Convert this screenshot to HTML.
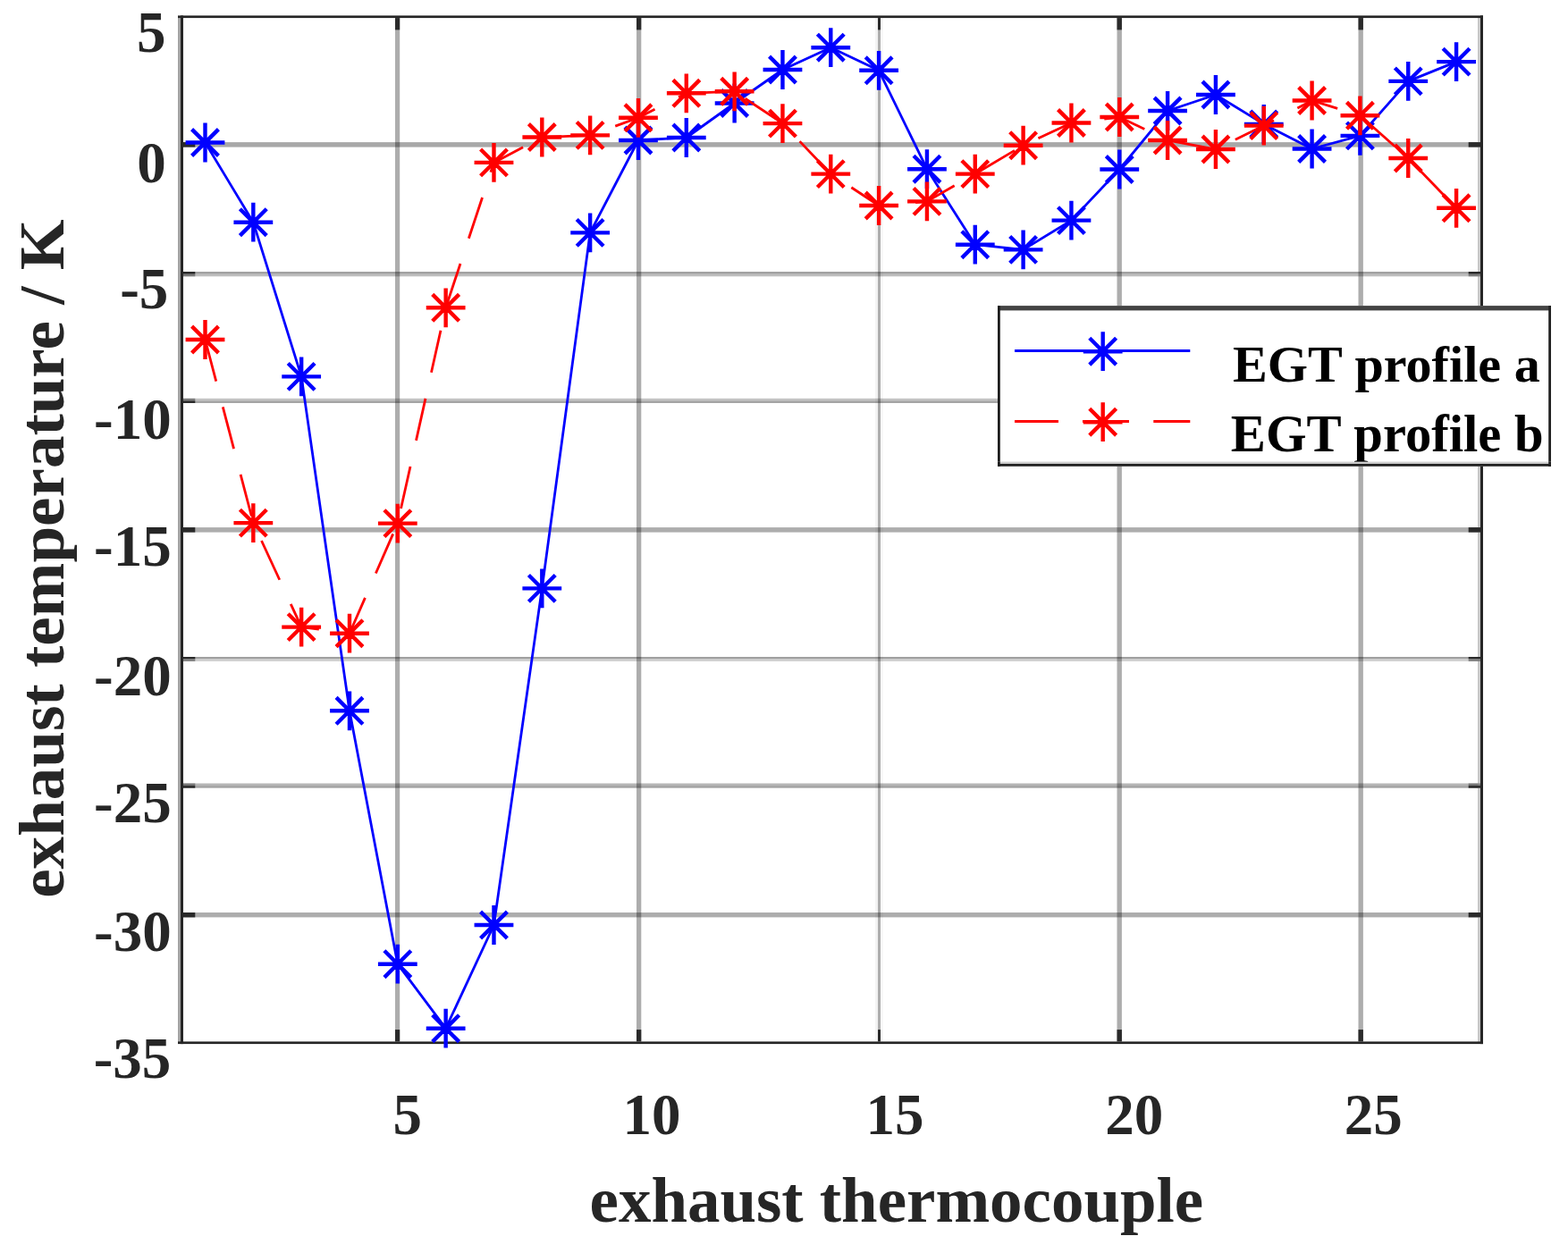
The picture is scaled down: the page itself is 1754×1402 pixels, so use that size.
<!DOCTYPE html>
<html lang="en"><head><meta charset="utf-8"><title>EGT profiles</title>
<style>
html,body{margin:0;padding:0;background:#fff;}
body{width:1754px;height:1402px;overflow:hidden;}
svg{display:block;}
text{font-family:"Liberation Serif","Times New Roman",Times,serif;font-weight:bold;}
.tk{font-size:65px;fill:#262626;}
.lab{font-size:71.5px;fill:#262626;}
.leg{font-size:57.5px;fill:#000;}
.leg2{font-size:60px;fill:#000;}
</style></head><body>
<svg width="1754" height="1402" viewBox="0 0 1754 1402" role="img" aria-label="EGT profile chart">
<rect width="1754" height="1402" fill="#fff"/>
<g fill="#000">
<rect x="442" y="20.1" width="5.2" height="1145.3" fill-opacity="0.322"/>
<rect x="712" y="20.1" width="5.3" height="1145.3" fill-opacity="0.322"/>
<rect x="982" y="20.1" width="3" height="1145.3" fill-opacity="0.322"/>
<rect x="1249.5" y="20.1" width="5.4" height="1145.3" fill-opacity="0.322"/>
<rect x="1519.5" y="20.1" width="5.4" height="1145.3" fill-opacity="0.322"/>
<rect x="979.2" y="20.1" width="2.8" height="1145.3" fill-opacity="0.05"/>
<rect x="985" y="20.1" width="2.8" height="1145.3" fill-opacity="0.03"/>
<rect x="205" y="159.1" width="1451" height="5.5" fill-opacity="0.341"/>
<rect x="205" y="304" width="1451" height="2.6" fill-opacity="0.365"/>
<rect x="205" y="306.6" width="1451" height="2.7" fill-opacity="0.255"/>
<rect x="205" y="445.8" width="1451" height="2.6" fill-opacity="0.231"/>
<rect x="205" y="448.4" width="1451" height="2.6" fill-opacity="0.357"/>
<rect x="205" y="590.1" width="1451" height="5.5" fill-opacity="0.322"/>
<rect x="205" y="735" width="1451" height="2.3" fill-opacity="0.373"/>
<rect x="205" y="737.3" width="1451" height="2.7" fill-opacity="0.176"/>
<rect x="205" y="876.5" width="1451" height="2.6" fill-opacity="0.286"/>
<rect x="205" y="879.1" width="1451" height="2.6" fill-opacity="0.357"/>
<rect x="205" y="1021" width="1451" height="5.4" fill-opacity="0.322"/>
</g>
<g fill="#262626">
<rect x="199" y="18" width="3" height="1149.5" fill="#a3a3a3"/>
<rect x="1653" y="20" width="3" height="1146" fill="#c8c8c8"/>
<rect x="199" y="17.4" width="1460" height="2.7"/>
<rect x="199" y="1165.4" width="1460" height="2.7"/>
<rect x="202" y="17.4" width="3" height="1150.7"/>
<rect x="1656" y="17.4" width="3" height="1150.7"/>
</g>
<g fill="#2a2a2a">
<rect x="442" y="1152.1" width="5.2" height="13.3"/>
<rect x="442" y="20.1" width="5.2" height="13.3"/>
<rect x="712" y="1152.1" width="5.3" height="13.3"/>
<rect x="712" y="20.1" width="5.3" height="13.3"/>
<rect x="982" y="1152.1" width="3" height="13.3"/>
<rect x="982" y="20.1" width="3" height="13.3"/>
<rect x="1249.5" y="1152.1" width="5.4" height="13.3"/>
<rect x="1249.5" y="20.1" width="5.4" height="13.3"/>
<rect x="1519.5" y="1152.1" width="5.4" height="13.3"/>
<rect x="1519.5" y="20.1" width="5.4" height="13.3"/>
<rect x="205" y="159.1" width="13.3" height="5.5" fill-opacity="1.0"/>
<rect x="1642.7" y="159.1" width="13.3" height="5.5" fill-opacity="1.0"/>
<rect x="205" y="304" width="13.3" height="2.6" fill-opacity="1.0"/>
<rect x="1642.7" y="304" width="13.3" height="2.6" fill-opacity="1.0"/>
<rect x="205" y="306.6" width="13.3" height="2.7" fill-opacity="0.45"/>
<rect x="1642.7" y="306.6" width="13.3" height="2.7" fill-opacity="0.45"/>
<rect x="205" y="445.8" width="13.3" height="2.6" fill-opacity="0.45"/>
<rect x="1642.7" y="445.8" width="13.3" height="2.6" fill-opacity="0.45"/>
<rect x="205" y="448.4" width="13.3" height="2.6" fill-opacity="1.0"/>
<rect x="1642.7" y="448.4" width="13.3" height="2.6" fill-opacity="1.0"/>
<rect x="205" y="590.1" width="13.3" height="5.5" fill-opacity="1.0"/>
<rect x="1642.7" y="590.1" width="13.3" height="5.5" fill-opacity="1.0"/>
<rect x="205" y="735" width="13.3" height="2.3" fill-opacity="1.0"/>
<rect x="1642.7" y="735" width="13.3" height="2.3" fill-opacity="1.0"/>
<rect x="205" y="737.3" width="13.3" height="2.7" fill-opacity="0.45"/>
<rect x="1642.7" y="737.3" width="13.3" height="2.7" fill-opacity="0.45"/>
<rect x="205" y="876.5" width="13.3" height="2.6" fill-opacity="0.45"/>
<rect x="1642.7" y="876.5" width="13.3" height="2.6" fill-opacity="0.45"/>
<rect x="205" y="879.1" width="13.3" height="2.6" fill-opacity="1.0"/>
<rect x="1642.7" y="879.1" width="13.3" height="2.6" fill-opacity="1.0"/>
<rect x="205" y="1021" width="13.3" height="5.4" fill-opacity="1.0"/>
<rect x="1642.7" y="1021" width="13.3" height="5.4" fill-opacity="1.0"/>
</g>
<polyline points="229.5,159.5 283.33,248.7 337.16,421.4 390.99,795.3 444.82,1078.7 498.65,1150.7 552.48,1035 606.31,658.4 660.14,260.4 713.97,157 767.8,154 821.63,115.5 875.46,78 929.29,53.2 983.12,78.8 1036.95,189.2 1090.78,273.7 1144.61,279.4 1198.44,246.6 1252.27,189.5 1306.1,124 1359.93,106 1413.76,138.9 1467.59,166.5 1521.42,151.9 1575.25,90.9 1629.08,69.1" fill="none" stroke="#0000ff" stroke-width="2.8" stroke-linejoin="round"/>
<path d="M207.6 159.5H251.4M229.5 137.6V181.4M214.6 144.6L244.4 174.4M214.6 174.4L244.4 144.6M261.43 248.7H305.23M283.33 226.8V270.6M268.43 233.8L298.23 263.6M268.43 263.6L298.23 233.8M315.26 421.4H359.06M337.16 399.5V443.3M322.26 406.5L352.06 436.3M322.26 436.3L352.06 406.5M369.09 795.3H412.89M390.99 773.4V817.2M376.09 780.4L405.89 810.2M376.09 810.2L405.89 780.4M422.92 1078.7H466.72M444.82 1056.8V1100.6M429.92 1063.8L459.72 1093.6M429.92 1093.6L459.72 1063.8M476.75 1150.7H520.55M498.65 1128.8V1172.6M483.75 1135.8L513.55 1165.6M483.75 1165.6L513.55 1135.8M530.58 1035H574.38M552.48 1013.1V1056.9M537.58 1020.1L567.38 1049.9M537.58 1049.9L567.38 1020.1M584.41 658.4H628.21M606.31 636.5V680.3M591.41 643.5L621.21 673.3M591.41 673.3L621.21 643.5M638.24 260.4H682.04M660.14 238.5V282.3M645.24 245.5L675.04 275.3M645.24 275.3L675.04 245.5M692.07 157H735.87M713.97 135.1V178.9M699.07 142.1L728.87 171.9M699.07 171.9L728.87 142.1M745.9 154H789.7M767.8 132.1V175.9M752.9 139.1L782.7 168.9M752.9 168.9L782.7 139.1M799.73 115.5H843.53M821.63 93.6V137.4M806.73 100.6L836.53 130.4M806.73 130.4L836.53 100.6M853.56 78H897.36M875.46 56.1V99.9M860.56 63.1L890.36 92.9M860.56 92.9L890.36 63.1M907.39 53.2H951.19M929.29 31.3V75.1M914.39 38.3L944.19 68.1M914.39 68.1L944.19 38.3M961.22 78.8H1005.02M983.12 56.9V100.7M968.22 63.9L998.02 93.7M968.22 93.7L998.02 63.9M1015.05 189.2H1058.85M1036.95 167.3V211.1M1022.05 174.3L1051.85 204.1M1022.05 204.1L1051.85 174.3M1068.88 273.7H1112.68M1090.78 251.8V295.6M1075.88 258.8L1105.68 288.6M1075.88 288.6L1105.68 258.8M1122.71 279.4H1166.51M1144.61 257.5V301.3M1129.71 264.5L1159.51 294.3M1129.71 294.3L1159.51 264.5M1176.54 246.6H1220.34M1198.44 224.7V268.5M1183.54 231.7L1213.34 261.5M1183.54 261.5L1213.34 231.7M1230.37 189.5H1274.17M1252.27 167.6V211.4M1237.37 174.6L1267.17 204.4M1237.37 204.4L1267.17 174.6M1284.2 124H1328M1306.1 102.1V145.9M1291.2 109.1L1321 138.9M1291.2 138.9L1321 109.1M1338.03 106H1381.83M1359.93 84.1V127.9M1345.03 91.1L1374.83 120.9M1345.03 120.9L1374.83 91.1M1391.86 138.9H1435.66M1413.76 117V160.8M1398.86 124L1428.66 153.8M1398.86 153.8L1428.66 124M1445.69 166.5H1489.49M1467.59 144.6V188.4M1452.69 151.6L1482.49 181.4M1452.69 181.4L1482.49 151.6M1499.52 151.9H1543.32M1521.42 130V173.8M1506.52 137L1536.32 166.8M1506.52 166.8L1536.32 137M1553.35 90.9H1597.15M1575.25 69V112.8M1560.35 76L1590.15 105.8M1560.35 105.8L1590.15 76M1607.18 69.1H1650.98M1629.08 47.2V91M1614.18 54.2L1643.98 84M1614.18 84L1643.98 54.2" fill="none" stroke="#0000ff" stroke-width="4.4"/>
<polyline points="229.5,380 283.33,585.1 337.16,701.6 390.99,708.7 444.82,585.6 498.65,344.3 552.48,181.9 606.31,153.5 660.14,151.4 713.97,131.8 767.8,104.3 821.63,102.3 875.46,138.1 929.29,194.6 983.12,230 1036.95,225.4 1090.78,194.6 1144.61,162.7 1198.44,137.5 1252.27,131 1306.1,157 1359.93,167 1413.76,140.6 1467.59,112.5 1521.42,129.3 1575.25,177 1629.08,232.8" fill="none" stroke="#ff0000" stroke-width="2.8" stroke-linejoin="round" stroke-dasharray="48.2 29.8" stroke-dashoffset="0"/>
<path d="M207.6 380H251.4M229.5 358.1V401.9M214.6 365.1L244.4 394.9M214.6 394.9L244.4 365.1M261.43 585.1H305.23M283.33 563.2V607M268.43 570.2L298.23 600M268.43 600L298.23 570.2M315.26 701.6H359.06M337.16 679.7V723.5M322.26 686.7L352.06 716.5M322.26 716.5L352.06 686.7M369.09 708.7H412.89M390.99 686.8V730.6M376.09 693.8L405.89 723.6M376.09 723.6L405.89 693.8M422.92 585.6H466.72M444.82 563.7V607.5M429.92 570.7L459.72 600.5M429.92 600.5L459.72 570.7M476.75 344.3H520.55M498.65 322.4V366.2M483.75 329.4L513.55 359.2M483.75 359.2L513.55 329.4M530.58 181.9H574.38M552.48 160V203.8M537.58 167L567.38 196.8M537.58 196.8L567.38 167M584.41 153.5H628.21M606.31 131.6V175.4M591.41 138.6L621.21 168.4M591.41 168.4L621.21 138.6M638.24 151.4H682.04M660.14 129.5V173.3M645.24 136.5L675.04 166.3M645.24 166.3L675.04 136.5M692.07 131.8H735.87M713.97 109.9V153.7M699.07 116.9L728.87 146.7M699.07 146.7L728.87 116.9M745.9 104.3H789.7M767.8 82.4V126.2M752.9 89.4L782.7 119.2M752.9 119.2L782.7 89.4M799.73 102.3H843.53M821.63 80.4V124.2M806.73 87.4L836.53 117.2M806.73 117.2L836.53 87.4M853.56 138.1H897.36M875.46 116.2V160M860.56 123.2L890.36 153M860.56 153L890.36 123.2M907.39 194.6H951.19M929.29 172.7V216.5M914.39 179.7L944.19 209.5M914.39 209.5L944.19 179.7M961.22 230H1005.02M983.12 208.1V251.9M968.22 215.1L998.02 244.9M968.22 244.9L998.02 215.1M1015.05 225.4H1058.85M1036.95 203.5V247.3M1022.05 210.5L1051.85 240.3M1022.05 240.3L1051.85 210.5M1068.88 194.6H1112.68M1090.78 172.7V216.5M1075.88 179.7L1105.68 209.5M1075.88 209.5L1105.68 179.7M1122.71 162.7H1166.51M1144.61 140.8V184.6M1129.71 147.8L1159.51 177.6M1129.71 177.6L1159.51 147.8M1176.54 137.5H1220.34M1198.44 115.6V159.4M1183.54 122.6L1213.34 152.4M1183.54 152.4L1213.34 122.6M1230.37 131H1274.17M1252.27 109.1V152.9M1237.37 116.1L1267.17 145.9M1237.37 145.9L1267.17 116.1M1284.2 157H1328M1306.1 135.1V178.9M1291.2 142.1L1321 171.9M1291.2 171.9L1321 142.1M1338.03 167H1381.83M1359.93 145.1V188.9M1345.03 152.1L1374.83 181.9M1345.03 181.9L1374.83 152.1M1391.86 140.6H1435.66M1413.76 118.7V162.5M1398.86 125.7L1428.66 155.5M1398.86 155.5L1428.66 125.7M1445.69 112.5H1489.49M1467.59 90.6V134.4M1452.69 97.6L1482.49 127.4M1452.69 127.4L1482.49 97.6M1499.52 129.3H1543.32M1521.42 107.4V151.2M1506.52 114.4L1536.32 144.2M1506.52 144.2L1536.32 114.4M1553.35 177H1597.15M1575.25 155.1V198.9M1560.35 162.1L1590.15 191.9M1560.35 191.9L1590.15 162.1M1607.18 232.8H1650.98M1629.08 210.9V254.7M1614.18 217.9L1643.98 247.7M1614.18 247.7L1643.98 217.9" fill="none" stroke="#ff0000" stroke-width="4.4"/>
<rect x="1116" y="342.1" width="619" height="179.7" fill="#fff"/>
<rect x="1116" y="342.1" width="619" height="5.3" fill="#434343"/>
<rect x="1116" y="342.1" width="2.8" height="179.7" fill="#1c1c1c"/>
<rect x="1732.2" y="342.1" width="2.8" height="179.7" fill="#222"/>
<line x1="1135" y1="392.5" x2="1331.3" y2="392.5" stroke="#0000ff" stroke-width="3.2"/>
<path d="M1211.8 393.2H1255.6M1233.7 371.3V415.1M1218.8 378.3L1248.6 408.1M1218.8 408.1L1248.6 378.3" fill="none" stroke="#0000ff" stroke-width="4.4"/>
<line x1="1135" y1="471.5" x2="1184" y2="471.5" stroke="#ff0000" stroke-width="3.2"/>
<line x1="1211" y1="471.5" x2="1263" y2="471.5" stroke="#ff0000" stroke-width="3.2"/>
<line x1="1290.3" y1="471.5" x2="1331.3" y2="471.5" stroke="#ff0000" stroke-width="3.2"/>
<path d="M1211.8 472.2H1255.6M1233.7 450.3V494.1M1218.8 457.3L1248.6 487.1M1218.8 487.1L1248.6 457.3" fill="none" stroke="#ff0000" stroke-width="4.4"/>
<text class="tk" x="152.95" y="58.4">5</text>
<text class="tk" x="153.3" y="204.15">0</text>
<text class="tk" x="134.15" y="344.55">-5</text>
<text class="tk" x="105" y="491.4">-10</text>
<text class="tk" x="105" y="632.55">-15</text>
<text class="tk" x="105" y="778">-20</text>
<text class="tk" x="105" y="919.7">-25</text>
<text class="tk" x="105" y="1064.25">-30</text>
<text class="tk" x="104.65" y="1206.3">-35</text>
<text class="tk" x="439.45" y="1269.2">5</text>
<text class="tk" x="696.6" y="1269.2">10</text>
<text class="tk" x="968.6" y="1269.2">15</text>
<text class="tk" x="1236.35" y="1269.2">20</text>
<text class="tk" x="1503.75" y="1269.2">25</text>
<text class="lab" x="659.6" y="1367" textLength="686.5" lengthAdjust="spacingAndGlyphs">exhaust thermocouple</text>
<text class="leg" x="1379" y="426.8" textLength="343.8" lengthAdjust="spacingAndGlyphs">EGT profile a</text>
<text class="leg2" x="1376.8" y="505.4" textLength="349.9" lengthAdjust="spacingAndGlyphs">EGT profile b</text>
<text class="lab" transform="translate(71.1 1004.8) rotate(-90)" textLength="759.3" lengthAdjust="spacingAndGlyphs">exhaust temperature / K</text>
<rect x="1116" y="516.6" width="619" height="2.5" fill="#cccccc"/>
<rect x="1116" y="519" width="619" height="2.8" fill="#222"/>
<rect x="1116" y="516.6" width="2.8" height="5.2" fill="#1c1c1c"/>
<rect x="1732.2" y="516.6" width="2.8" height="5.2" fill="#222"/>
</svg>
</body></html>
